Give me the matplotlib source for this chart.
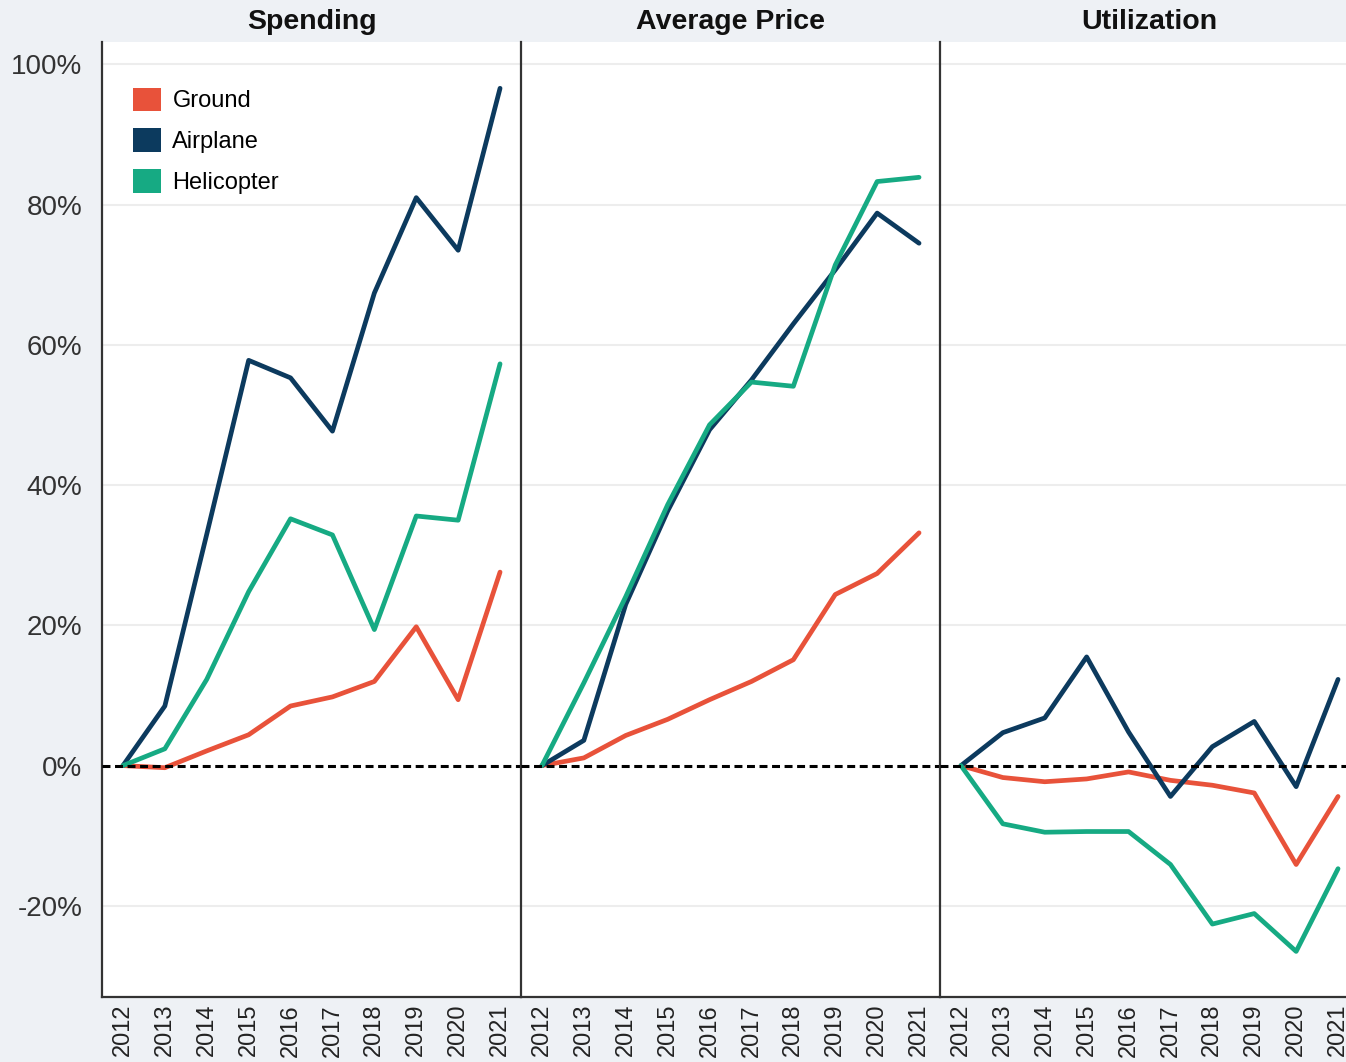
import matplotlib.pyplot as plt
from matplotlib.patches import Patch
from matplotlib.ticker import PercentFormatter

years = [2012, 2013, 2014, 2015, 2016, 2017, 2018, 2019, 2020, 2021]
panels = ["Spending", "Average Price", "Utilization"]
series = ["Ground", "Airplane", "Helicopter"]
colors = {"Ground": "#E8523A", "Airplane": "#0C3A5E", "Helicopter": "#16AA83"}

# percent change vs 2012
spending_ground = [0, -0.3, 2.1, 4.4, 8.5, 9.8, 12.0, 19.8, 9.4, 27.6]
spending_airplane = [0, 8.5, 33.0, 57.8, 55.3, 47.7, 67.4, 81.0, 73.5, 96.6]
spending_helicopter = [0, 2.4, 12.3, 24.8, 35.2, 32.9, 19.4, 35.6, 35.0, 57.3]

price_ground = [0, 1.1, 4.3, 6.6, 9.4, 12.0, 15.1, 24.4, 27.4, 33.2]
price_airplane = [0, 3.6, 23.0, 36.3, 47.9, 55.0, 63.0, 70.7, 78.8, 74.5]
price_helicopter = [0, 11.8, 24.1, 37.2, 48.6, 54.7, 54.1, 71.4, 83.3, 83.9]

util_ground = [0, -1.7, -2.3, -1.9, -0.9, -2.1, -2.8, -3.9, -14.1, -4.4]
util_airplane = [0, 4.7, 6.8, 15.5, 4.8, -4.4, 2.7, 6.3, -3.0, 12.3]
util_helicopter = [0, -8.3, -9.5, -9.4, -9.4, -14.1, -22.6, -21.1, -26.5, -14.7]

data = {
    "Spending": [spending_ground, spending_airplane, spending_helicopter],
    "Average Price": [price_ground, price_airplane, price_helicopter],
    "Utilization": [util_ground, util_airplane, util_helicopter],
}

plt.rcParams['font.family'] = ['Liberation Sans', 'DejaVu Sans']
plt.rcParams['axes.unicode_minus'] = False
bg = "#EEF1F5"

W, H = 1346, 1062
fig = plt.figure(figsize=(W / 100, H / 100), dpi=100, facecolor=bg)

left, pw = 102, 419
top, bot = 42, 997
axes = []
for i, name in enumerate(panels):
    x0 = left + i * pw
    ax = fig.add_axes([x0 / W, (H - bot) / H, pw / W, (bot - top) / H],
                      sharey=axes[0] if axes else None)
    axes.append(ax)
    ax.set_facecolor("white")
    xs = list(range(len(years)))
    for grid_y in [-20, 20, 40, 60, 80, 100]:
        ax.axhline(grid_y, color="#EDEDED", lw=1.5, zorder=0)
    for s, vals in zip(series, data[name]):
        ax.plot(xs, vals, color=colors[s], lw=3.4, zorder=2, solid_capstyle="round")
    ax.axhline(0, color="black", lw=2.2, ls=(0, (2.6, 1.5)), zorder=3)
    ax.set_xlim(-0.5, 9.5)
    ax.set_ylim(-33, 103.2)
    ax.set_xticks(xs)
    ax.set_xticklabels([str(y) for y in years], rotation=90, fontsize=17, color="#222222")
    ax.tick_params(axis="x", length=0, pad=5)
    ax.tick_params(axis="y", length=0, pad=14)
    for side in ["top", "right"]:
        ax.spines[side].set_visible(False)
    ax.spines["left"].set_color("#333333")
    ax.spines["bottom"].set_color("#333333")
    ax.spines["left"].set_linewidth(1.6)
    ax.spines["bottom"].set_linewidth(1.6)
    if i > 0:
        ax.tick_params(axis="y", labelleft=False)
    fig.text((x0 + pw / 2) / W, (H - 22) / H, name, ha="center", va="center",
             fontsize=20.5, fontweight="bold", color="#111111")

axes[0].set_yticks([-20, 0, 20, 40, 60, 80, 100])
axes[0].yaxis.set_major_formatter(PercentFormatter(decimals=0))
for lab in axes[0].get_yticklabels():
    lab.set_fontsize(20)
    lab.set_color("#333333")

handles = [Patch(facecolor=colors[s], edgecolor="none", label=s) for s in series]
axes[0].legend(handles=handles, loc="upper left", bbox_to_anchor=(0.03, 0.972),
               frameon=False, fontsize=17, handlelength=1.15, handleheight=1.15,
               labelspacing=0.68, handletextpad=0.5, borderpad=0.3)

fig.savefig("out.png", dpi=100, facecolor=bg)
